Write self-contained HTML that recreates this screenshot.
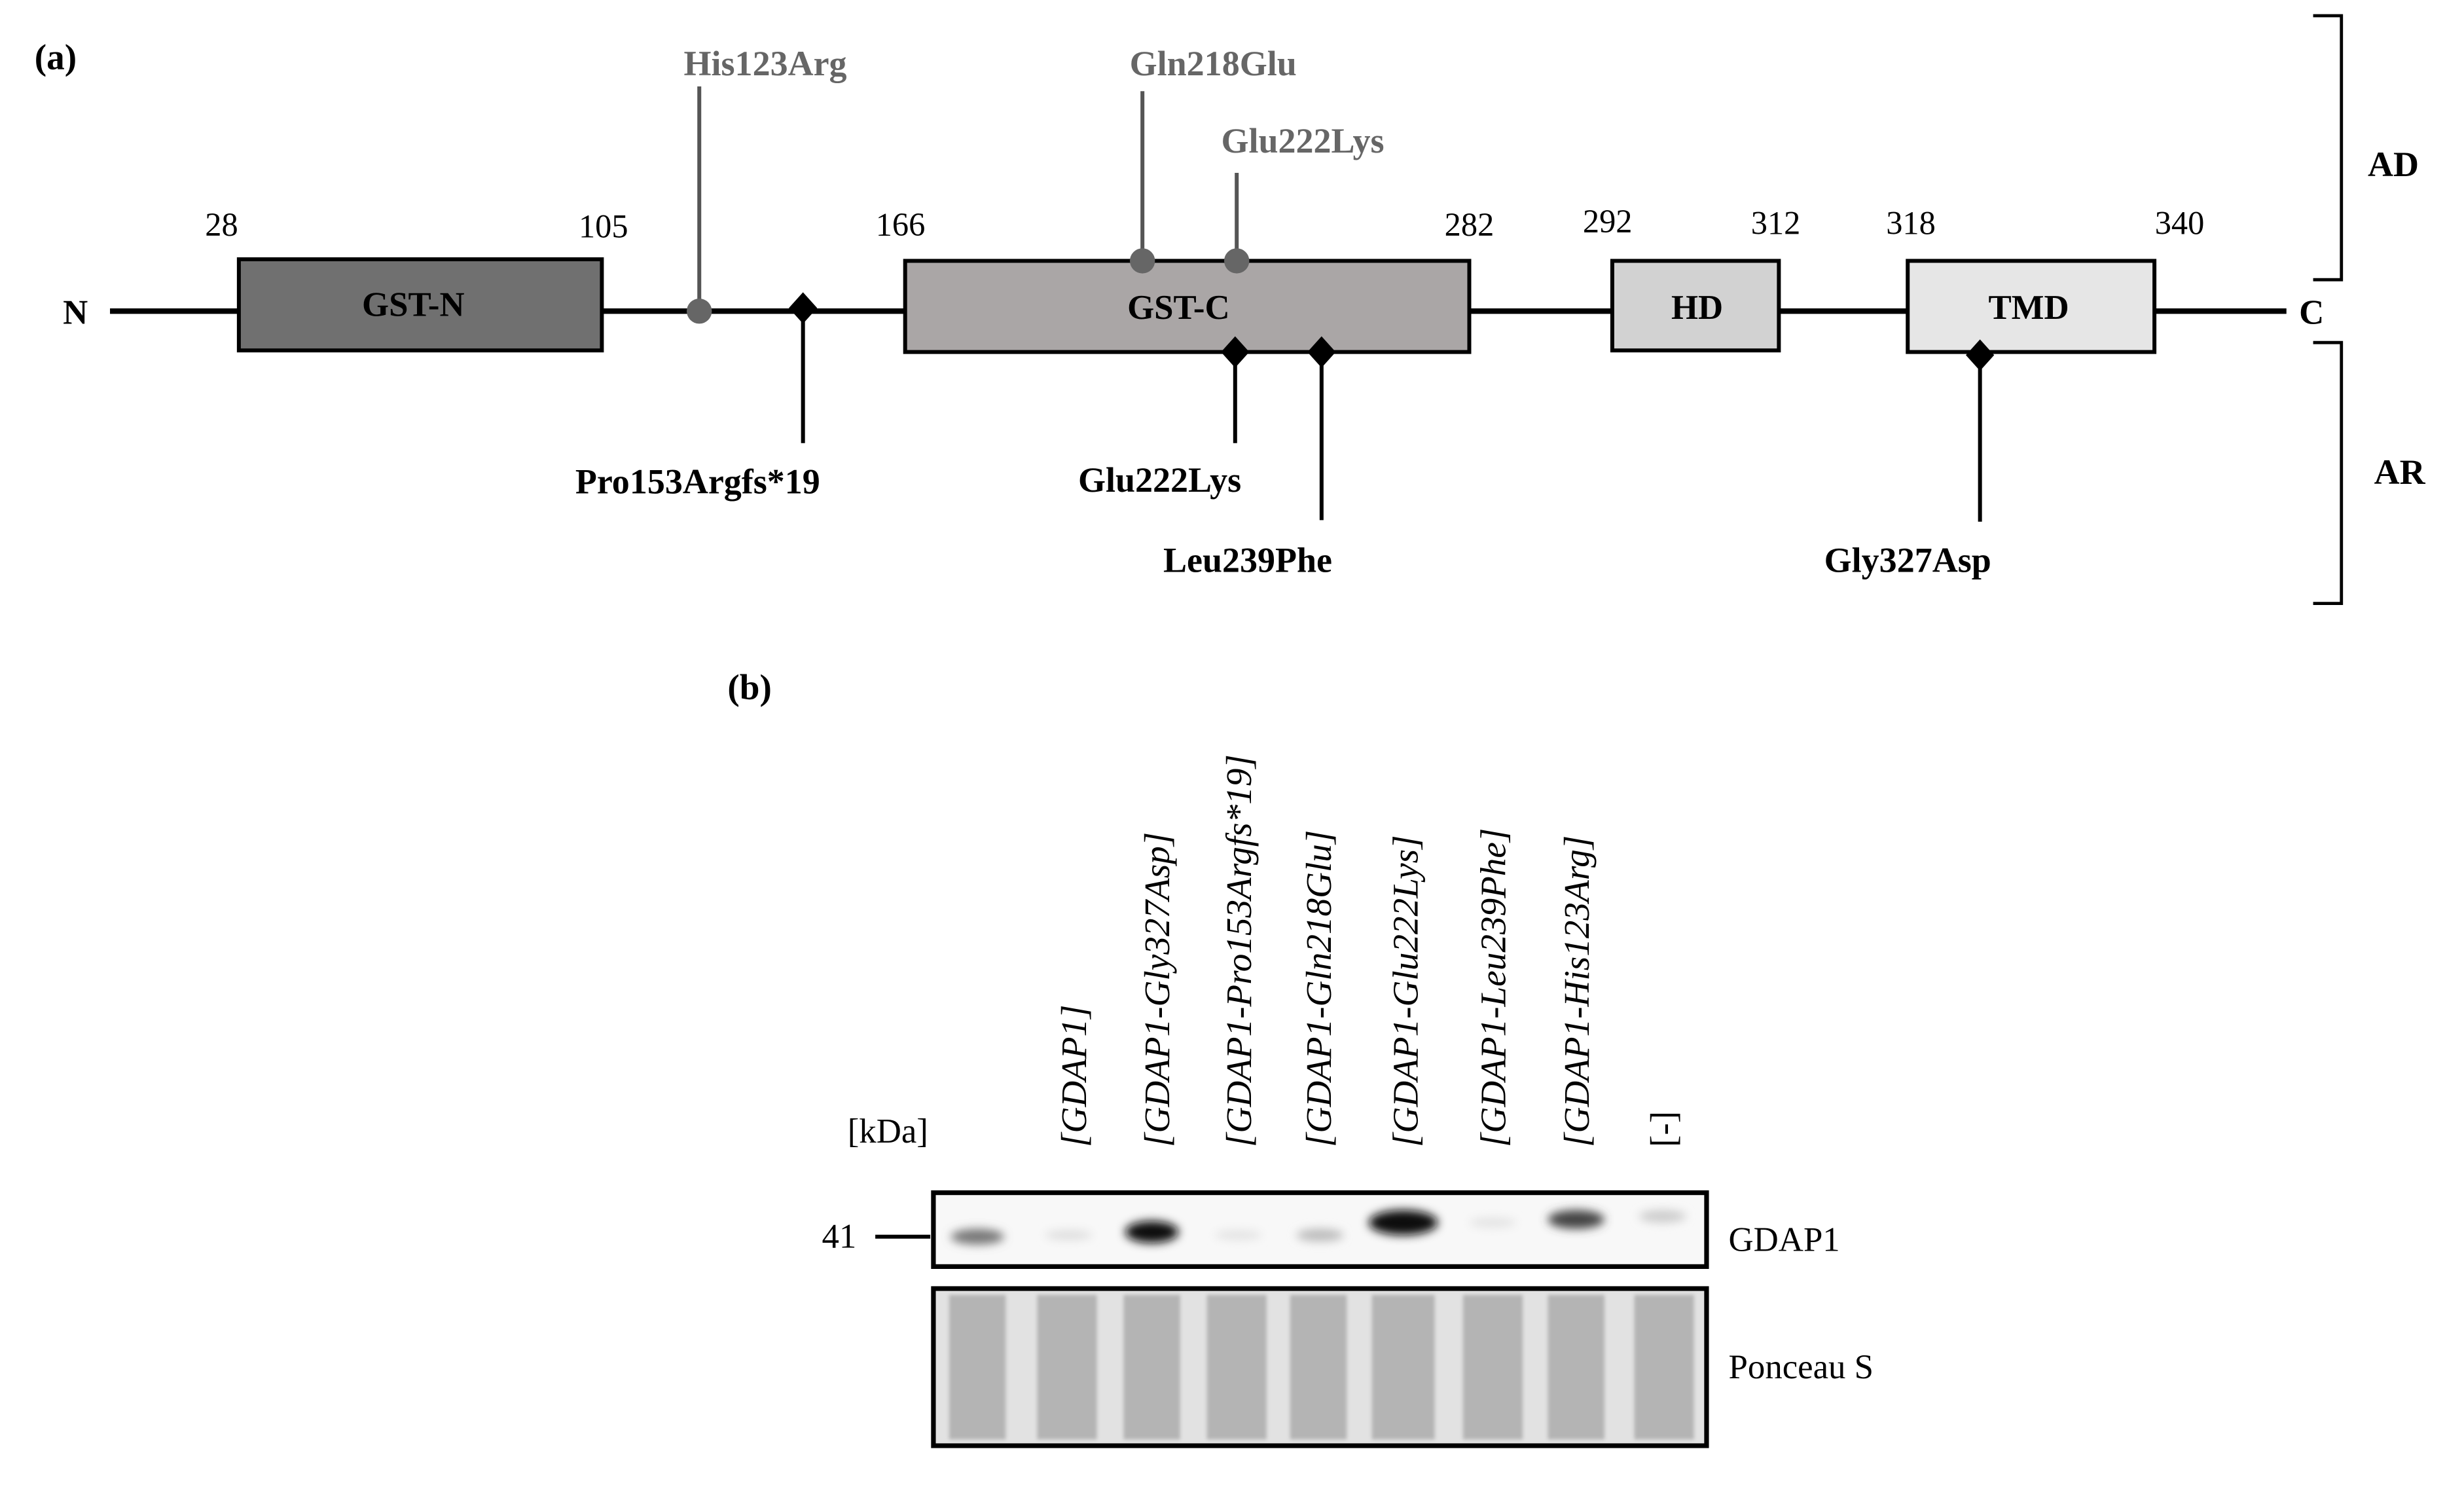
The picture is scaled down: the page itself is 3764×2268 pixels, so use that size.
<!DOCTYPE html>
<html><head><style>html,body{margin:0;padding:0;background:#fff}svg{display:block}</style></head>
<body>
<svg width="3764" height="2268" viewBox="0 0 1568 945" preserveAspectRatio="none" xmlns="http://www.w3.org/2000/svg" font-family="Liberation Serif, serif">
<defs>
<filter id="bl" x="-50%" y="-50%" width="200%" height="200%"><feGaussianBlur stdDeviation="3"/></filter>
<filter id="bl2"><feGaussianBlur stdDeviation="1.2"/></filter>
</defs>
<text x="22" y="44" font-size="23" font-weight="bold">(a)</text>
<text x="463" y="445" font-size="23" font-weight="bold">(b)</text>
<line x1="70" y1="198" x2="1455" y2="198" stroke="#000" stroke-width="3.5"/>
<text x="48" y="206" font-size="22" font-weight="bold" text-anchor="middle">N</text>
<text x="1471" y="206" font-size="22" font-weight="bold" text-anchor="middle">C</text>
<rect x="152" y="165" width="231" height="58" fill="#707070" stroke="#000" stroke-width="2.5"/>
<rect x="576" y="166" width="359" height="58" fill="#aaa6a6" stroke="#000" stroke-width="2.5"/>
<rect x="1026" y="166" width="106" height="57" fill="#d2d2d2" stroke="#000" stroke-width="2.5"/>
<rect x="1214" y="166" width="157" height="58" fill="#e6e6e6" stroke="#000" stroke-width="2.5"/>
<g font-size="22" font-weight="bold" text-anchor="middle">
<text x="263" y="201">GST-N</text><text x="750" y="203">GST-C</text>
<text x="1080" y="203">HD</text><text x="1291" y="203">TMD</text>
</g>
<g font-size="21" text-anchor="middle">
<text x="141" y="150">28</text><text x="384" y="151">105</text>
<text x="573" y="150">166</text><text x="935" y="150">282</text>
<text x="1023" y="148">292</text><text x="1130" y="149">312</text>
<text x="1216" y="149">318</text><text x="1387" y="149">340</text>
</g>
<g stroke="#555" stroke-width="2.5" fill="#666">
<line x1="445" y1="55" x2="445" y2="198"/><circle cx="445" cy="198" r="8" stroke="none"/>
<line x1="727" y1="58" x2="727" y2="166"/><circle cx="727" cy="166" r="8" stroke="none"/>
<line x1="787" y1="110" x2="787" y2="166"/><circle cx="787" cy="166" r="8" stroke="none"/>
</g>
<g font-size="22.5" font-weight="bold" fill="#666" text-anchor="middle">
<text x="487" y="48">His123Arg</text><text x="772" y="48">Gln218Glu</text><text x="829" y="97">Glu222Lys</text>
</g>
<g stroke="#000" stroke-width="2.5">
<line x1="511" y1="196" x2="511" y2="282"/><line x1="786" y1="224" x2="786" y2="282"/>
<line x1="841" y1="224" x2="841" y2="331"/><line x1="1260" y1="226" x2="1260" y2="332"/>
</g>
<g fill="#000">
<polygon points="511,186 520,196 511,206 502,196"/>
<polygon points="786,214 795,224 786,234 777,224"/>
<polygon points="841,214 850,224 841,234 832,224"/>
<polygon points="1260,216 1269,226 1260,236 1251,226"/>
</g>
<g font-size="22.5" font-weight="bold" text-anchor="middle">
<text x="444" y="314">Pro153Argfs*19</text><text x="738" y="313">Glu222Lys</text>
<text x="794" y="364">Leu239Phe</text><text x="1214" y="364">Gly327Asp</text>
<text x="1523" y="112">AD</text><text x="1527" y="308">AR</text>
</g>
<polyline points="1472,10 1490,10 1490,178 1472,178" fill="none" stroke="#000" stroke-width="2"/>
<polyline points="1472,218 1490,218 1490,384 1472,384" fill="none" stroke="#000" stroke-width="2"/>
<text x="565" y="727" font-size="22" text-anchor="middle">[kDa]</text>
<text x="534" y="794" font-size="22" text-anchor="middle">41</text>
<line x1="557" y1="787" x2="592" y2="787" stroke="#000" stroke-width="2.5"/>
<g font-size="23" font-style="italic" text-anchor="start">
<text transform="translate(691,730) rotate(-90)">[GDAP1]</text>
<text transform="translate(744,730) rotate(-90)">[GDAP1-Gly327Asp]</text>
<text transform="translate(796,730) rotate(-90)">[GDAP1-Pro153Argfs*19]</text>
<text transform="translate(847,730) rotate(-90)">[GDAP1-Gln218Glu]</text>
<text transform="translate(902,730) rotate(-90)">[GDAP1-Glu222Lys]</text>
<text transform="translate(958,730) rotate(-90)">[GDAP1-Leu239Phe]</text>
<text transform="translate(1011,730) rotate(-90)">[GDAP1-His123Arg]</text>
<text transform="translate(1066,730) rotate(-90)" font-style="normal">[-]</text>
</g>
<rect x="594" y="759" width="492" height="47" fill="#f8f8f8" stroke="#000" stroke-width="3"/>
<g filter="url(#bl)">
<ellipse cx="622" cy="787" rx="17" ry="5" fill="#777"/>
<ellipse cx="680" cy="786" rx="15" ry="3" fill="#ddd"/>
<ellipse cx="733" cy="784" rx="17" ry="7" fill="#111"/>
<ellipse cx="788" cy="786" rx="15" ry="3" fill="#e2e2e2"/>
<ellipse cx="840" cy="786" rx="15" ry="4" fill="#bbb"/>
<ellipse cx="893" cy="778" rx="22" ry="8" fill="#111"/>
<ellipse cx="950" cy="778" rx="15" ry="3" fill="#e2e2e2"/>
<ellipse cx="1003" cy="776" rx="18" ry="6" fill="#444"/>
<ellipse cx="1058" cy="774" rx="15" ry="4" fill="#ccc"/>
</g>
<text x="1100" y="796" font-size="22">GDAP1</text>
<rect x="594" y="820" width="492" height="100" fill="#e2e2e2" stroke="#000" stroke-width="3"/>
<g fill="#b4b4b4" filter="url(#bl2)">
<rect x="604" y="824" width="36" height="92"/><rect x="660" y="824" width="38" height="92"/>
<rect x="715" y="824" width="36" height="92"/><rect x="768" y="824" width="38" height="92"/>
<rect x="821" y="824" width="36" height="92"/><rect x="873" y="824" width="40" height="92"/>
<rect x="931" y="824" width="38" height="92"/><rect x="985" y="824" width="36" height="92"/>
<rect x="1040" y="824" width="38" height="92"/>
</g>
<text x="1100" y="877" font-size="22">Ponceau S</text>
</svg>
</body></html>
